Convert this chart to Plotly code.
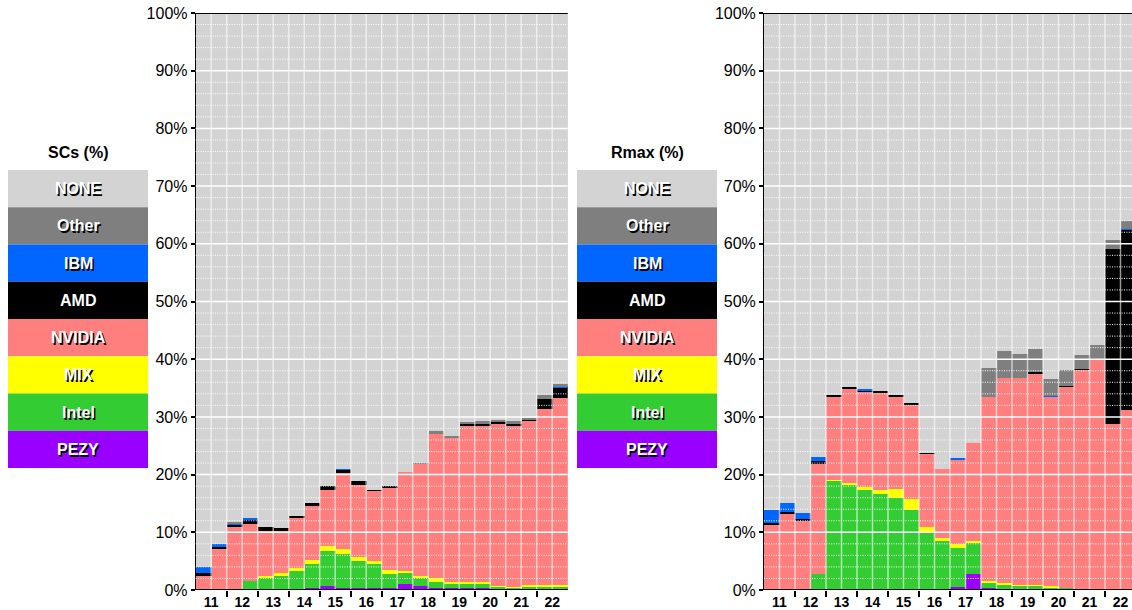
import plotly.graph_objects as go

# Two TOP500 lists per year (June, November), 2011-2022
years = ["11", "12", "13", "14", "15", "16", "17", "18", "19", "20", "21", "22"]
editions = list(range(1, 25))

# Share of supercomputers (%) by accelerator vendor
sc_pezy = [0, 0, 0, 0, 0, 0, 0, 0.3, 0.65, 0.4, 0.4, 0.3,
           0.4, 1.0, 0.75, 0.4, 0.3, 0.3, 0.3, 0, 0, 0.25, 0.25, 0.25]
sc_intel = [0, 0, 0.2, 1.6, 2.25, 2.5, 3.3, 4.15, 6.15, 5.85, 4.6, 4.15,
            2.45, 2.0, 1.4, 1.05, 0.8, 0.8, 0.8, 0.65, 0.45, 0.4, 0.4, 0.4]
sc_mix = [0, 0, 0, 0, 0.2, 0.45, 0.6, 0.8, 0.8, 0.85, 0.7, 0.55,
          0.7, 0.35, 0.35, 0.6, 0.35, 0.35, 0.35, 0.1, 0.1, 0.15, 0.15, 0.15]
sc_nvidia = [2.5, 7.1, 10.8, 9.9, 7.85, 7.25, 8.6, 9.35, 9.7, 13.2, 12.5, 12.2,
             14.25, 17.1, 19.4, 25.0, 24.95, 27.05, 27.05, 27.95, 27.95, 28.55, 30.6, 32.55]
sc_amd = [0.45, 0.4, 0.4, 0.6, 0.6, 0.5, 0.35, 0.5, 0.7, 0.6, 0.7, 0.15,
          0.2, 0, 0, 0, 0, 0.35, 0.3, 0.35, 0.35, 0.15, 1.75, 1.75]
sc_ibm = [1.0, 0.4, 0.2, 0.35, 0, 0, 0, 0, 0, 0.1, 0, 0,
          0, 0, 0, 0, 0, 0, 0, 0, 0, 0, 0, 0.1]
sc_other = [0, 0, 0.15, 0, 0, 0, 0, 0, 0, 0, 0, 0,
            0, 0, 0.1, 0.5, 0.3, 0.3, 0.5, 0.5, 0.45, 0.3, 0.6, 0.5]

# Share of aggregate Rmax (%) by accelerator vendor
rm_pezy = [0, 0, 0, 0, 0, 0, 0, 0, 0.2, 0.2, 0.2, 0,
           0.45, 2.8, 0.35, 0, 0, 0, 0, 0, 0, 0, 0, 0]
rm_intel = [0, 0, 0, 2.8, 18.9, 18.15, 17.35, 16.65, 15.75, 13.6, 9.8, 8.5,
            6.85, 5.35, 0.85, 0.85, 0.7, 0.7, 0.5, 0.35, 0, 0, 0, 0]
rm_mix = [0, 0, 0, 0, 0.2, 0.4, 0.5, 0.7, 1.55, 1.95, 0.85, 0.5,
          0.7, 0.35, 0.35, 0.35, 0.2, 0.2, 0.2, 0, 0.2, 0.2, 0.15, 0.15]
rm_nvidia = [11.2, 13.1, 12.0, 19.05, 14.4, 16.3, 16.6, 16.75, 16.0, 16.35, 12.75, 12.0,
             14.7, 17.0, 31.95, 35.55, 35.85, 36.7, 32.75, 34.85, 37.95, 39.85, 28.65, 31.05]
rm_amd = [0.45, 0.45, 0.3, 0.45, 0.35, 0.35, 0.15, 0.35, 0.35, 0.35, 0.15, 0,
          0, 0, 0, 0, 0, 0.15, 0, 0.15, 0.1, 0, 30.35, 31.2]
rm_ibm = [2.25, 1.55, 1.0, 0.75, 0, 0, 0.15, 0, 0, 0, 0, 0,
          0.25, 0, 0, 0, 0, 0, 0.15, 0, 0, 0, 0, 0.15]
rm_other = [0, 0, 0, 0, 0, 0, 0, 0, 0, 0, 0, 0,
            0, 0, 5.0, 4.7, 4.15, 4.0, 2.95, 2.8, 2.5, 2.45, 1.55, 1.4]

vendors = ["PEZY", "Intel", "MIX", "NVIDIA", "AMD", "IBM", "Other", "NONE"]
colors = {
    "PEZY": "#9900ff",
    "Intel": "#33cc33",
    "MIX": "#ffff00",
    "NVIDIA": "#ff7f7f",
    "AMD": "#000000",
    "IBM": "#0066ff",
    "Other": "#7f7f7f",
    "NONE": "#d3d3d3",
}

panels = [
    ("SCs (%)", [sc_pezy, sc_intel, sc_mix, sc_nvidia, sc_amd, sc_ibm, sc_other]),
    ("Rmax (%)", [rm_pezy, rm_intel, rm_mix, rm_nvidia, rm_amd, rm_ibm, rm_other]),
]

W, H = 1132, 610
M_T, M_B = 13, 20
PLOT_H = H - M_T - M_B
BAR_PX = 15.5

# panel placement (px) and legend placement (px)
panel_left = [195.7, 764.0]
legend_left = [8.0, 577.0]
LEG_W = 140.0
LEG_TOP = 170.0
LEG_ROW = 37.25

font_family = "Liberation Sans, Arial, Helvetica, sans-serif"

fig = go.Figure()
shapes = []
annotations = []


def py(ypx):
    return (H - M_B - ypx) / PLOT_H


for p, (title, stacks) in enumerate(panels):
    xa = "x" if p == 0 else "x2"
    ya = "y" if p == 0 else "y2"
    none = [round(100 - sum(v[i] for v in stacks), 3) for i in range(len(editions))]
    for name, vals in zip(vendors, stacks + [none]):
        fig.add_trace(go.Bar(
            x=editions, y=vals, name=name, xaxis=xa, yaxis=ya,
            marker=dict(color=colors[name], line=dict(width=0)),
            showlegend=False, hoverinfo="skip",
        ))

    x0 = panel_left[p] / W
    x1 = min(1.0, (panel_left[p] + BAR_PX * len(editions)) / W)
    xmax = 0.5 + (x1 * W - panel_left[p]) / BAR_PX
    tick_years = [2 * i + 1.5 for i in range(len(years))]
    axis_key = "xaxis" if p == 0 else "xaxis2"
    yaxis_key = "yaxis" if p == 0 else "yaxis2"
    fig.update_layout(**{
        axis_key: dict(
            domain=[x0, x1], range=[0.5, xmax], anchor=ya,
            showgrid=False, zeroline=False, showline=False,
            tickmode="array", tickvals=tick_years, ticktext=years,
            ticks="", ticklabelstandoff=2,
            tickfont=dict(family=font_family, size=14, color="black", weight="bold"),
            minor=dict(tickmode="array",
                       tickvals=[2 * i + 0.5 for i in range(1, len(years))],
                       ticks="outside", ticklen=6, tickwidth=2, tickcolor="black",
                       showgrid=False),
        ),
        yaxis_key: dict(
            domain=[0, 1], range=[0, 100], anchor=xa,
            showgrid=False, zeroline=False,
            showline=True, linecolor="black", linewidth=1,
            tickmode="array", tickvals=list(range(0, 101, 10)),
            ticktext=[f"{v}%" for v in range(0, 101, 10)],
            ticks="outside", ticklen=4, tickwidth=1.5, tickcolor="black",
            tickfont=dict(family=font_family, size=16, color="black"),
        ),
    })

    xd = f"{xa} domain"
    # dotted minor grid every 2%
    for v in range(2, 100, 2):
        if v % 10 == 0:
            continue
        shapes.append(dict(type="line", xref=xd, yref=ya, x0=0, x1=1, y0=v, y1=v,
                           line=dict(color="white", width=1, dash="1px,1.4px"),
                           layer="above"))
    # major grid every 10%
    for v in range(10, 100, 10):
        shapes.append(dict(type="line", xref=xd, yref=ya, x0=0, x1=1, y0=v, y1=v,
                           line=dict(color="white", width=1.5), layer="above"))
    # separators between list editions
    for b in range(1, len(editions)):
        xb = b + 0.5
        if xb > xmax:
            continue
        shapes.append(dict(type="line", xref=xa, yref=ya, x0=xb, x1=xb, y0=0, y1=100,
                           line=dict(color="rgba(255,255,255,0.6)", width=1.5),
                           layer="above"))
    # frame lines at 0% and 100%
    ext = -4.0 / (x1 * W - panel_left[p])
    for v in (0, 100):
        shapes.append(dict(type="line", xref=xd, yref=ya, x0=ext, x1=1, y0=v, y1=v,
                           line=dict(color="black", width=2), layer="above"))

    # vendor key beside the panel
    lx0 = legend_left[p]
    annotations.append(dict(
        xref="paper", yref="paper", x=(lx0 + LEG_W / 2) / W, y=py(153),
        text=title, showarrow=False, xanchor="center", yanchor="middle",
        font=dict(family=font_family, size=16, color="black", weight="bold"),
    ))
    for k, name in enumerate(reversed(vendors)):
        top = LEG_TOP + k * LEG_ROW
        shapes.append(dict(type="rect", xref="paper", yref="paper",
                           x0=lx0 / W, x1=(lx0 + LEG_W) / W,
                           y0=py(top + LEG_ROW), y1=py(top),
                           fillcolor=colors[name], line=dict(width=0), layer="above"))
        annotations.append(dict(
            xref="paper", yref="paper", x=(lx0 + LEG_W / 2) / W, y=py(top + LEG_ROW / 2),
            text=name, showarrow=False, xanchor="center", yanchor="middle",
            font=dict(family=font_family, size=16, color="white", weight="bold",
                      shadow="1.5px 1.5px 0px #000"),
        ))

fig.update_layout(
    width=W, height=H,
    margin=dict(l=0, r=0, t=M_T, b=M_B, pad=0),
    barmode="stack", bargap=0,
    plot_bgcolor="#d3d3d3", paper_bgcolor="white",
    shapes=shapes, annotations=annotations,
    font=dict(family=font_family),
)

fig.write_html("out.html", config={"displayModeBar": False})
